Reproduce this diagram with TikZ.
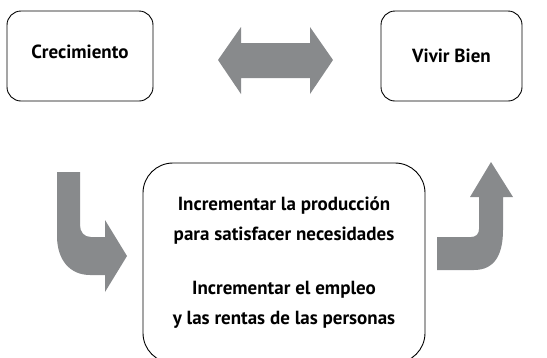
\documentclass[tikz,border=0pt]{standalone}
\usepackage{fontspec}
\setmainfont{PT Sans}
\definecolor{flecha}{HTML}{888A8C}

\begin{document}
\begin{tikzpicture}[x=1pt,y=-1pt, caja/.style = {draw, line width=0.9pt, rounded corners=14pt, align=center, font=\bfseries\fontsize{19}{30}\selectfont}]
					\clip (0,0) rectangle (547,357);
					\begin{scope}[every node/.style={caja}]
						\node[minimum width=146pt,minimum height=90pt,text depth=8pt] (C) at (80,56) {Crecimiento};
						\node[minimum width=141pt,minimum height=90pt] (V) at (451.5,56) {Vivir Bien};
						\node[minimum width=282pt,minimum height=200pt,rounded corners=30pt] (I) at (284,263) {Incrementar la producción\\ para satisfacer necesidades\\[24pt] Incrementar el empleo\\ y las rentas de las personas};
					\end{scope}
					\fill [flecha] (218,60) -- (241,27) -- (241,43) -- (310,43) -- (310,27) -- (333,60) -- (310,94) -- (310,78) -- (241,78) -- (241,94) -- cycle;
					\fill [flecha] (57,172) -- (80,172) -- (80,225) .. controls (80,232) and (84,237) .. (91,237) -- (105,237) -- (105,220) -- (127,256) -- (105,292) -- (105,275) -- (90,275) .. controls (70,275) and (57,260) .. (57,236) -- cycle;
					\fill [flecha] (491,162) -- (513,197) -- (503,197) -- (503,230) .. controls (503,254) and (495,270) .. (474,270) -- (437,270) -- (437,237) -- (471,237) .. controls (476,237) and (479,234) .. (479,229) -- (479,197) -- (470,197) -- cycle;
				\end{tikzpicture}
\end{document}
